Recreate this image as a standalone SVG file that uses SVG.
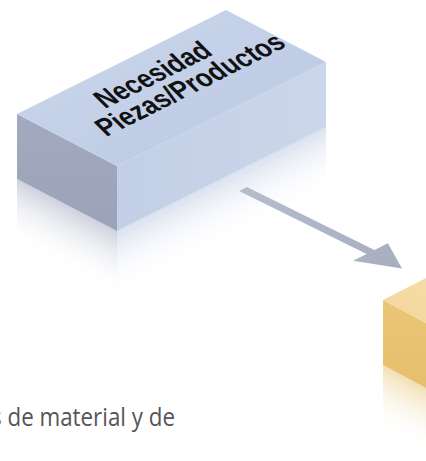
<svg xmlns="http://www.w3.org/2000/svg" width="426" height="461" viewBox="0 0 426 461">
  <defs>
    <linearGradient id="blueTop" x1="0" y1="0" x2="1" y2="1">
      <stop offset="0" stop-color="#cbd6eb"/>
      <stop offset="0.5" stop-color="#c3d0e7"/>
      <stop offset="1" stop-color="#b6c5df"/>
    </linearGradient>
    <linearGradient id="blueLeft" x1="0" y1="0" x2="0" y2="1">
      <stop offset="0" stop-color="#a3aabf"/>
      <stop offset="1" stop-color="#9ba3b9"/>
    </linearGradient>
    <linearGradient id="blueRight" x1="0" y1="0" x2="1" y2="0">
      <stop offset="0" stop-color="#c3cfe6"/>
      <stop offset="1" stop-color="#cbd6ea"/>
    </linearGradient>
    <linearGradient id="blueLeftRefl" gradientUnits="userSpaceOnUse" x1="17" y1="179" x2="-9.7" y2="230.4">
      <stop offset="0" stop-color="#c9cdd9" stop-opacity="0.9"/>
      <stop offset="1" stop-color="#ffffff" stop-opacity="0"/>
    </linearGradient>
    <linearGradient id="blueRightRefl" gradientUnits="userSpaceOnUse" x1="117" y1="231" x2="142.8" y2="282.9">
      <stop offset="0" stop-color="#d9e1ef" stop-opacity="0.95"/>
      <stop offset="1" stop-color="#ffffff" stop-opacity="0"/>
    </linearGradient>
    <linearGradient id="orangeTop" x1="0" y1="1" x2="1" y2="0">
      <stop offset="0" stop-color="#f3d69a"/>
      <stop offset="1" stop-color="#f7e0ae"/>
    </linearGradient>
    <linearGradient id="orangeLeft" x1="0" y1="0" x2="0" y2="1">
      <stop offset="0" stop-color="#ebc576"/>
      <stop offset="1" stop-color="#e6be6c"/>
    </linearGradient>
    <linearGradient id="orangeRefl" gradientUnits="userSpaceOnUse" x1="383" y1="365" x2="356.3" y2="416.4">
      <stop offset="0" stop-color="#f2ddb0" stop-opacity="0.95"/>
      <stop offset="1" stop-color="#ffffff" stop-opacity="0"/>
    </linearGradient>
    <linearGradient id="arrowFill" gradientUnits="userSpaceOnUse" x1="240" y1="189" x2="402" y2="268">
      <stop offset="0" stop-color="#b5bccc"/>
      <stop offset="1" stop-color="#a7aec0"/>
    </linearGradient>
    <style>
      .boxlabel { font-family: "Liberation Sans Narrow", "Liberation Sans", Arial, sans-serif; font-weight: bold; font-size: 29px; fill: #111111; }
      .caption { font-family: "Open Sans", "Liberation Sans", Arial, sans-serif; font-size: 26px; fill: #555558; }
    </style>
  </defs>

  <rect width="426" height="461" fill="#ffffff"/>

  <g id="box-necesidad">
    <polygon points="17,179 117,231 117,296 17,244" fill="url(#blueLeftRefl)"/>
    <polygon points="117,231 326,127 326,192 117,296" fill="url(#blueRightRefl)"/>
    <polygon points="17,114 117,166 117,231 17,179" fill="url(#blueLeft)"/>
    <polygon points="117,166 326,62 326,127 117,231" fill="url(#blueRight)"/>
    <polygon points="17,114 226,10 326,62 117,166" fill="url(#blueTop)"/>
    <g transform="matrix(0.894,-0.449,0.707,0.707,105,109)">
      <text class="boxlabel" x="0" y="0" textLength="122" lengthAdjust="spacingAndGlyphs">Necesidad</text>
      <text class="boxlabel" x="-20" y="27" textLength="203" lengthAdjust="spacingAndGlyphs">Piezas/Productos</text>
    </g>
  </g>

  <g id="connectors">
    <polygon points="246.9,187 374.4,250 387.9,243.2 402,268.5 353.1,260.8 366.6,254 239.1,191" fill="url(#arrowFill)"/>
  </g>

  <g id="box-orange">
    <polygon points="383,365 426,388 426,453 383,430" fill="url(#orangeRefl)"/>
    <polygon points="383,300 426,323 426,388 383,365" fill="url(#orangeLeft)"/>
    <polygon points="383,300 440,271 500,302 426,323" fill="url(#orangeTop)"/>
  </g>

  <g id="caption">
    <text class="caption" x="-9" y="426" textLength="184" lengthAdjust="spacingAndGlyphs">s de material y de</text>
  </g>
</svg>
